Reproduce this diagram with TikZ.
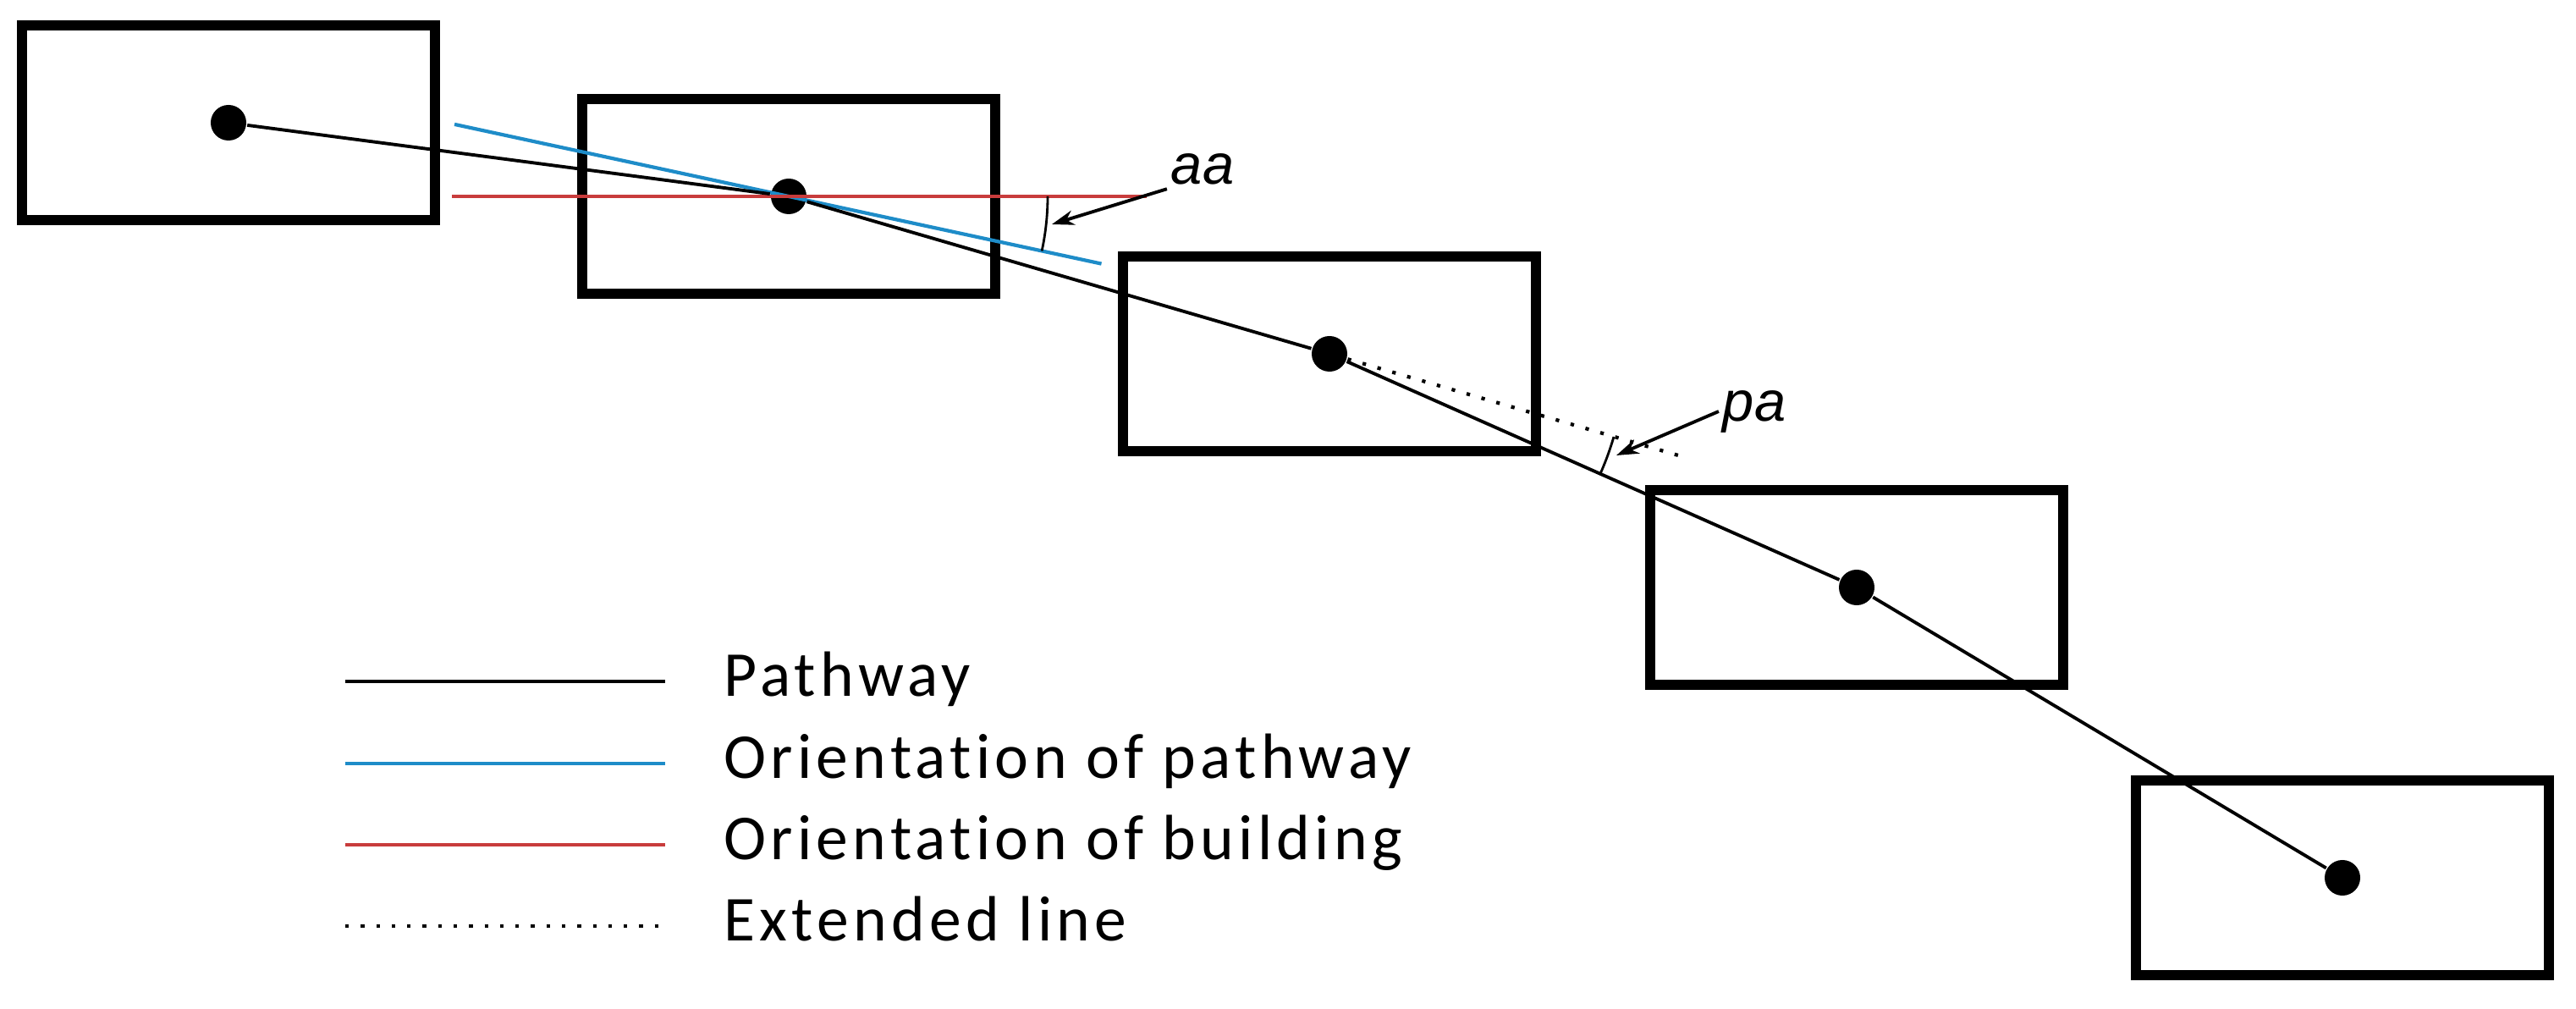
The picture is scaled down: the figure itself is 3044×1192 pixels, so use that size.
\documentclass[tikz,border=0pt]{standalone}
\usepackage{fontspec}
\setmainfont{Carlito}[Ligatures=NoCommon, LetterSpace=7]
\newfontfamily\labfont{Liberation Sans}
\usetikzlibrary{arrows.meta,calc}
\definecolor{pblue}{RGB}{30,140,200}
\definecolor{bred}{RGB}{200,60,60}
\tikzset{
  building/.style={draw, line width=3.4pt, rectangle, minimum width=4.88cm, minimum height=2.30cm, inner sep=0},
  centre/.style={circle, fill, inner sep=0, minimum size=0.42cm},
  pathway/.style={line width=1.1pt},
  porient/.style={line width=1.2pt, pblue},
  borient/.style={line width=1.2pt, bred},
  extline/.style={line width=1.2pt, dash pattern=on 1.2pt off 4pt},
  pointer/.style={->, line width=1.1pt},
  legtext/.style={anchor=base west, inner sep=0, font=\fontsize{21.5}{25}\selectfont},
  angtext/.style={font=\labfont\itshape\fontsize{19}{23}\selectfont, inner sep=1pt}
}
\begin{document}
\begin{tikzpicture}[>={Stealth[length=7.5pt,width=5pt]}, thick, x=0.01cm, y=-0.01cm]
\useasboundingbox (0,0) rectangle (3044,1192);
% buildings
\node[building] (b1) at (270,145) {};
\node[building] (b2) at (932,232) {};
\node[building] (b3) at (1571,418) {};
\node[building] (b4) at (2194,694) {};
\node[building] (b5) at (2768,1037) {};
\node[centre] (p1) at (b1) {};
\node[centre] (p2) at (b2) {};
\node[centre] (p3) at (b3) {};
\node[centre] (p4) at (b4) {};
\node[centre] (p5) at (b5) {};
% orientations
\draw[porient] (p2.center) ++(192.16:404) -- ++(12.16:782);
\draw[borient] (p2.center) ++(-398,0) -- ++(821,0);
\draw[pathway] (p1) -- (p2) -- (p3) -- (p4) -- (p5);
\coordinate (e3) at ($(p2.center)!1.664!(p3.center)$);
\draw[extline] (p3) -- (e3);
% angles
\draw (p2.center) ++(0:306) arc[start angle=0, end angle=12.16, radius=306];
\draw (p3.center) ++(16.26:350) arc[start angle=16.26, end angle=23.93, radius=350];
\node[angtext] (aa) at (1421,200) {aa};
\node[angtext] (pa) at (2073,486) {pa};
\coordinate (ta) at (1243,265);
\coordinate (tp) at (1910,538);
\draw[pointer] (aa.south west) -- (ta);
\draw[pointer] (pa.west) -- (tp);
% legend
\draw[pathway] (408,805) -- (786,805);
\draw[porient] (408,902) -- (786,902);
\draw[borient] (408,998) -- (786,998);
\draw[extline] (408,1094) -- (786,1094);
\node[legtext] (l1) at (854,823) {Pathway};
\node[legtext] (l2) at (854,920) {Orientation of pathway};
\node[legtext] (l3) at (854,1016) {Orientation of building};
\node[legtext] (l4) at (854,1112) {Extended line};
\end{tikzpicture}
\end{document}
